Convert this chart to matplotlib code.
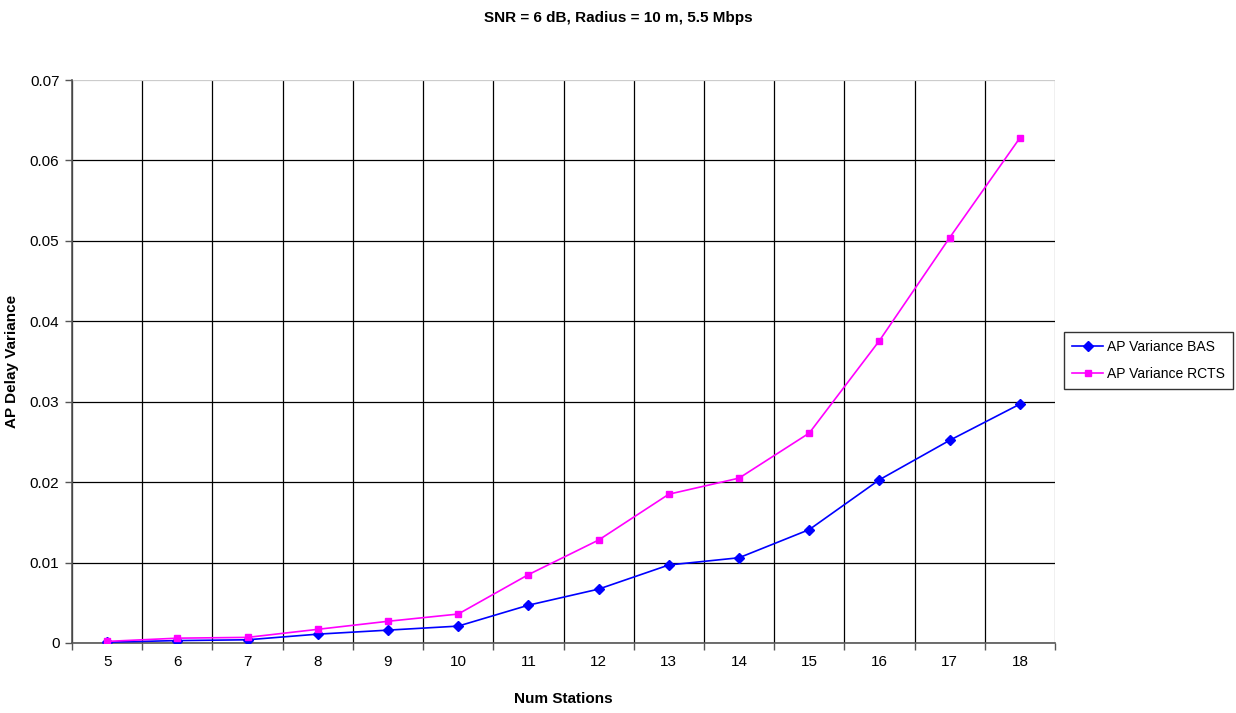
import matplotlib
matplotlib.use("Agg")
import matplotlib.pyplot as plt
import numpy as np
from matplotlib import font_manager

stations = [5, 6, 7, 8, 9, 10, 11, 12, 13, 14, 15, 16, 17, 18]
bas = [0.0001, 0.0003, 0.0004, 0.0011, 0.0016, 0.0021, 0.0047, 0.0067,
       0.0097, 0.0106, 0.0141, 0.0203, 0.0252, 0.0297]
rcts = [0.0002, 0.0006, 0.0007, 0.0017, 0.0027, 0.0036, 0.0085, 0.0128,
        0.0185, 0.0205, 0.0261, 0.0376, 0.0504, 0.0628]
yticks = [0, 0.01, 0.02, 0.03, 0.04, 0.05, 0.06, 0.07]
ytick_labels = ["0", "0.01", "0.02", "0.03", "0.04", "0.05", "0.06", "0.07"]

names = {f.name for f in font_manager.fontManager.ttflist}
narrow = "Liberation Sans Narrow" if "Liberation Sans Narrow" in names else "Liberation Sans"
plt.rcParams['font.family'] = ["Liberation Sans", "DejaVu Sans"]

W, H = 1236, 713
fig = plt.figure(figsize=(W / 100, H / 100), dpi=100)
L, R, T, B = 72, 1055, 80, 643
ax = fig.add_axes([L / W, 1 - B / H, (R - L) / W, (B - T) / H])

x = np.arange(len(stations))
ax.plot(x, bas, color="#0000FF", lw=1.2, marker="D", ms=5, label="AP Variance BAS", zorder=3)
ax.plot(x, rcts, color="#FF00FF", lw=1.2, marker="s", ms=5, label="AP Variance RCTS", zorder=4)

ax.set_xlim(-0.5, len(stations) - 0.5)
ax.set_ylim(0, 0.07)

# x: boundaries as major ticks (grid + tick marks), centers as minor (labels)
ax.set_xticks(np.arange(-0.5, len(stations) + 0.5, 1.0))
ax.set_xticklabels([])
ax.set_xticks(x, minor=True)
ax.set_xticklabels([str(s) for s in stations], minor=True, fontsize=11)
ax.tick_params(axis="x", which="major", length=5, width=1, color="#555555", direction="out")
ax.tick_params(axis="x", which="minor", length=0, pad=9)
ax.set_yticks(yticks)
ax.set_yticklabels(ytick_labels, fontsize=11)
ax.tick_params(axis="y", length=5, width=1, color="#555555", direction="out", pad=4)

ax.grid(True, which="major", color="black", lw=0.9)
ax.set_axisbelow(True)
# top gridline lighter, as in the reference
ax.get_ygridlines()[-1].set_color("#cccccc")
ax.get_xgridlines()[-1].set_color("#888888")
for s in ["top", "right"]:
    ax.spines[s].set_visible(False)
for s in ["left", "bottom"]:
    ax.spines[s].set_color("#555555")
    ax.spines[s].set_linewidth(1.2)

ax.set_xlabel("Num Stations", fontsize=11, fontweight="bold", family=[narrow, "DejaVu Sans"], labelpad=16)
ax.set_ylabel("AP Delay Variance", fontsize=11, fontweight="bold", labelpad=8)
fig.text(0.5, 1 - 18 / H, "SNR = 6 dB, Radius = 10 m, 5.5 Mbps", ha="center", va="center",
         fontsize=11, fontweight="bold", family=[narrow, "DejaVu Sans"])

leg = fig.legend(loc="upper left", bbox_to_anchor=(1064 / W, 1 - 332 / H), frameon=True,
                 fancybox=False, edgecolor="black", fontsize=10, borderpad=0.6,
                 handlelength=2.2, handletextpad=0.3, borderaxespad=0,
                 labelspacing=0.9)
leg.get_frame().set_linewidth(1.0)

fig.savefig("out.png", dpi=100)
